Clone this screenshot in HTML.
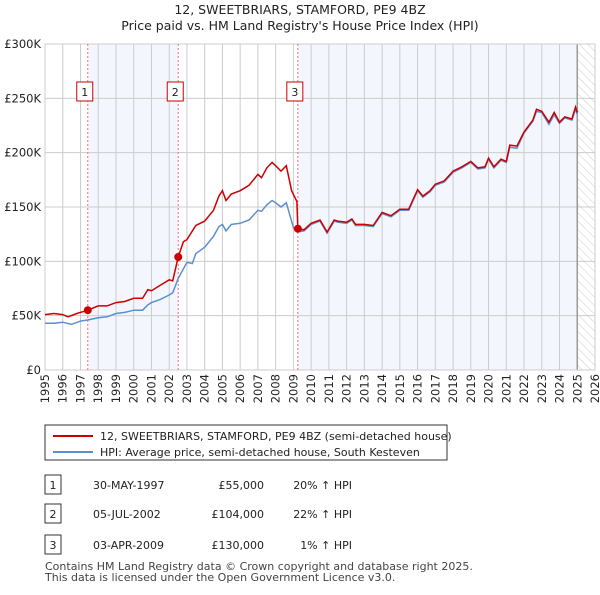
<!DOCTYPE html>
<html><head><meta charset="utf-8"><style>
body{margin:0;background:#fff;font-family:"Liberation Sans","DejaVu Sans",sans-serif;}
svg text{font-family:"DejaVu Sans","Liberation Sans",sans-serif;}
</style></head><body>
<svg id="c" width="600" height="590" viewBox="0 0 600 590" xmlns="http://www.w3.org/2000/svg">
<defs><pattern id="hatch" width="6" height="6" patternUnits="userSpaceOnUse" patternTransform="rotate(-45)"><line x1="0" y1="0" x2="0" y2="6" stroke="#ccc" stroke-width="1"/></pattern></defs>
<text x="300" y="14" text-anchor="middle" font-size="12.5" fill="#222">12, SWEETBRIARS, STAMFORD, PE9 4BZ</text>
<text x="300" y="30" text-anchor="middle" font-size="12.5" fill="#222">Price paid vs. HM Land Registry's House Price Index (HPI)</text>
<g id="plot"></g>
<g>
<rect x="45" y="425" width="402" height="35" fill="#fff" stroke="#333"/>
<line x1="53" y1="436" x2="93" y2="436" stroke="#cc0000" stroke-width="2"/>
<text x="100" y="440" font-size="11" fill="#222">12, SWEETBRIARS, STAMFORD, PE9 4BZ (semi-detached house)</text>
<line x1="53" y1="452" x2="93" y2="452" stroke="#5b8fd0" stroke-width="2"/>
<text x="100" y="456" font-size="11" fill="#222">HPI: Average price, semi-detached house, South Kesteven</text>
</g>
<g id="table" font-size="11" fill="#222"></g>
<text x="45" y="570" font-size="11" fill="#444">Contains HM Land Registry data © Crown copyright and database right 2025.</text>
<text x="45" y="581" font-size="11" fill="#444">This data is licensed under the Open Government Licence v3.0.</text>
</svg>
<script>
const yTicks=[0,50000,100000,150000,200000,250000,300000];
const yTickLabels=["£0","£50K","£100K","£150K","£200K","£250K","£300K"];
const years=[1995,1996,1997,1998,1999,2000,2001,2002,2003,2004,2005,2006,2007,2008,2009,2010,2011,2012,2013,2014,2015,2016,2017,2018,2019,2020,2021,2022,2023,2024,2025,2026];
const hpiT=[1995,1995.5,1996,1996.5,1997,1997.4,1998,1998.5,1999,1999.5,2000,2000.5,2000.8,2001,2001.5,2002,2002.2,2002.5,2003,2003.3,2003.5,2004,2004.5,2004.8,2005,2005.2,2005.5,2006,2006.5,2007,2007.2,2007.5,2007.8,2008,2008.3,2008.6,2009,2009.25,2009.6,2010,2010.5,2010.9,2011.3,2011.5,2012,2012.3,2012.5,2013,2013.5,2014,2014.5,2015,2015.5,2016,2016.3,2016.7,2017,2017.5,2018,2018.5,2019,2019.4,2019.8,2020,2020.3,2020.7,2021,2021.2,2021.6,2022,2022.5,2022.7,2023,2023.4,2023.7,2024,2024.3,2024.7,2024.9,2025.0];
const hpiV=[43,43,44,42,45,46,48,49,52,53,55,55,60,62,65,69,71,84,99,98,107,113,123,132,134,128,134,135,138,147,146,152,156,154,150,154,131,127,128,134,137,126,137,136,135,138,133,133,132,144,141,147,147,165,159,164,170,173,182,186,191,185,186,194,186,193,191,205,204,218,229,238,237,226,235,227,232,230,240,235];
const priceT=[1995,1995.5,1996,1996.3,1996.8,1997.41,1998,1998.5,1999,1999.5,2000,2000.5,2000.8,2001,2001.5,2002,2002.2,2002.51,2002.8,2003,2003.5,2004,2004.5,2004.8,2005,2005.2,2005.5,2006,2006.5,2007,2007.2,2007.5,2007.8,2008,2008.3,2008.6,2008.9,2009.2,2009.25,2009.6,2010,2010.5,2010.9,2011.3,2011.5,2012,2012.3,2012.5,2013,2013.5,2014,2014.5,2015,2015.5,2016,2016.3,2016.7,2017,2017.5,2018,2018.5,2019,2019.4,2019.8,2020,2020.3,2020.7,2021,2021.2,2021.6,2022,2022.5,2022.7,2023,2023.4,2023.7,2024,2024.3,2024.7,2024.9,2025.0];
const priceV=[51,52,51,49,52,55,59,59,62,63,66,66,74,73,78,83,82,104,118,120,133,137,147,160,165,156,162,165,170,180,177,186,191,188,183,188,165,155,130,129,135,138,127,138,137,136,139,134,134,133,145,142,148,148,166,160,165,171,174,183,187,192,186,187,195,187,194,192,207,206,219,230,240,238,228,237,228,233,231,242,237];
const saleT=[1997.41,2002.51,2009.25];
const saleV=[55000,104000,130000];
const saleDates=["30-MAY-1997","05-JUL-2002","03-APR-2009"];
const salePrices=["£55,000","£104,000","£130,000"];
const saleHpi=["20% ↑ HPI","22% ↑ HPI","1% ↑ HPI"];
const dataEnd=2025.0;

const X0=45,X1=595,Y0=370,Y1=44;
const xs=t=>X0+(t-1995)/(2026-1995)*(X1-X0);
const ys=v=>Y0-v/300000*(Y0-Y1);
const NS="http://www.w3.org/2000/svg";
const plot=document.getElementById('plot');
function mk(tag,attrs,parent){const e=document.createElementNS(NS,tag);for(const k in attrs)e.setAttribute(k,attrs[k]);(parent||plot).appendChild(e);return e;}
let r;
r=mk('rect',{x:xs(saleT[0]),y:Y1,width:xs(saleT[1])-xs(saleT[0]),height:Y0-Y1,fill:'#f3f6fd'});

r=mk('rect',{x:xs(saleT[2]),y:Y1,width:xs(dataEnd)-xs(saleT[2]),height:Y0-Y1,fill:'#f3f6fd'});

r=mk('rect',{x:xs(dataEnd),y:Y1,width:X1-xs(dataEnd),height:Y0-Y1,fill:'url(#hatch)'});

yTicks.forEach((v,i)=>{
 const l=mk('line',{x1:X0,x2:X1,y1:ys(v),y2:ys(v),stroke:'#ccc'});
 
 const t=mk('text',{x:X0-4,y:ys(v)+4,'text-anchor':'end','font-size':'11.5',fill:'#222'});t.textContent=yTickLabels[i];
 
});
years.forEach(y=>{
 const l=mk('line',{x1:xs(y),x2:xs(y),y1:Y1,y2:Y0,stroke:'#ccc'});
 
 const t=mk('text',{x:0,y:0,'text-anchor':'end','font-size':'11.5',fill:'#222',transform:`translate(${xs(y)+4},${Y0+4}) rotate(-90)`});t.textContent=y;
 
});
r=mk('line',{x1:xs(dataEnd),x2:xs(dataEnd),y1:Y1,y2:Y0,stroke:'#999','stroke-width':1.5});

r=mk('rect',{x:X0,y:Y1,width:X1-X0,height:Y0-Y1,fill:'none',stroke:'#ccc'});

saleT.forEach((t,i)=>{
 const l=mk('line',{x1:xs(t),x2:xs(t),y1:Y1,y2:Y0,stroke:'#f07070','stroke-dasharray':'2,2'});
 
});
let p=hpiT.map((t,i)=>xs(t).toFixed(1)+','+ys(hpiV[i]*1000).toFixed(1)).join(' ');
r=mk('polyline',{points:p,fill:'none',stroke:'#5b8fd0','stroke-width':1.5});

p=priceT.map((t,i)=>xs(t).toFixed(1)+','+ys(priceV[i]*1000).toFixed(1)).join(' ');
r=mk('polyline',{points:p,fill:'none',stroke:'#cc0000','stroke-width':1.5});

saleT.forEach((t,i)=>{
 const c=mk('circle',{cx:xs(t),cy:ys(saleV[i]),r:4,fill:'#cc0000'});
 
 const b=mk('rect',{x:xs(t)-11,y:82,width:16,height:19,fill:'#fff',stroke:'#cc0000'});
 
 const tx=mk('text',{x:xs(t)-3,y:96,'text-anchor':'middle','font-size':'11',fill:'#222'});tx.textContent=i+1;
 
});
const tbl=document.getElementById('table');
const rowY=[485,514,545];
saleT.forEach((t,i)=>{
 const y=rowY[i];
 const b=mk('rect',{x:45,y:y-10,width:16,height:19,fill:'#fff',stroke:'#333'},tbl);
 
 let e=mk('text',{x:53,y:y+4,'text-anchor':'middle'},tbl);e.textContent=i+1;
 
 e=mk('text',{x:93,y:y+4},tbl);e.textContent=saleDates[i];
 
 e=mk('text',{x:264,y:y+4,'text-anchor':'end'},tbl);e.textContent=salePrices[i];
 
 e=mk('text',{x:352,y:y+4,'text-anchor':'end'},tbl);e.textContent=saleHpi[i];
 
});
</script>
</body></html>
